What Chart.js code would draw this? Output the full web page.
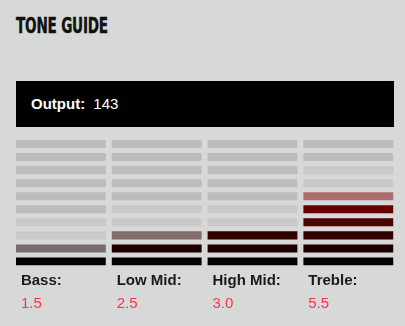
<!DOCTYPE html>
<html>
<head>
<meta charset="utf-8">
<script src="https://cdn.jsdelivr.net/npm/chart.js@4"></script>
<style>
    body { margin: 0; background: #d6d9d8; width: 405px; height: 326px; overflow: hidden; position: relative; font-family: "Liberation Sans", Arial, sans-serif; }
    #titulo { position: absolute; left: 16px; top: 14px; margin: 0; font-family: "Liberation Sans Narrow", "DejaVu Sans Condensed", sans-serif; font-weight: bold; font-size: 21px; line-height: 24px; color: #111; transform: scaleX(0.72); transform-origin: left top; letter-spacing: -0.3px; -webkit-text-stroke: 0.4px #111; }
    #salida { position: absolute; left: 16px; top: 81px; width: 378px; height: 46px; background: #000; color: #fff; font-size: 15px; line-height: 46px; }
    #salida b { margin-left: 15px; margin-right: 4px; }
    #grafico { position: absolute; left: 0; top: 130px; width: 405px; height: 196px; }
</style>
</head>
<body>
<h1 id="titulo">TONE GUIDE</h1>
<div id="salida"><b>Output:</b> <span id="valorSalida"></span></div>
<div id="grafico"><canvas id="myChart"></canvas></div>
<script>
const bandas = ['Bass:', 'Low Mid:', 'High Mid:', 'Treble:'];
const valores = [1.5, 2.5, 3.0, 5.5];
const salida = 143;
const niveles = 10;
const coloresNivel = ['#000000', '#1c0000', '#330000', '#4d0000', '#660000', '#820000', '#990000', '#b30000', '#cc0000', '#e60000'];

const gris = '#bcbcbc';
const grisClaro = '#c8c9c8';
const altoBarra = 8 / 13;

document.getElementById('valorSalida').textContent = salida;

function colorSegmento(valor, nivel) {
    if (valor >= nivel + 1) return coloresNivel[nivel];
    if (valor > nivel) {
        const c = coloresNivel[nivel];
        const r = parseInt(c.slice(1, 3), 16), g = parseInt(c.slice(3, 5), 16), b = parseInt(c.slice(5, 7), 16);
        return 'rgba(' + r + ',' + g + ',' + b + ',' + (valor - nivel) + ')';
    }
    if (nivel < Math.ceil(valor) + 2) return grisClaro;
    return gris;
}

const datasets = [];
for (let n = 0; n < niveles; n++) {
    datasets.push({
        data: valores.map(() => [n, n + altoBarra]),
        backgroundColor: valores.map(v => colorSegmento(v, n)),
        borderWidth: 0,
        grouped: false,
        barPercentage: 90 / 96,
        categoryPercentage: 1
    });
}

const ctx = document.getElementById('myChart').getContext('2d');
const myChart = new Chart(ctx, {
    type: 'bar',
    data: {
        labels: bandas,
        datasets: datasets
    },
    options: {
        responsive: true,
        maintainAspectRatio: false,
        animation: false,
        layout: { padding: { left: 13, right: 8, top: 5, bottom: 15.5 } },
        plugins: { legend: { display: false }, tooltip: { enabled: false } },
        scales: {
            x: {
                offset: true,
                grid: { display: false, drawTicks: false },
                border: { display: false },
                ticks: {
                    align: 'start',
                    labelOffset: -40,
                    padding: 6.5,
                    autoSkip: false,
                    maxRotation: 0,
                    color: '#1a1a1a',
                    font: { family: 'Liberation Sans', size: 15, weight: 'bold' }
                }
            },
            x2: {
                type: 'category',
                position: 'bottom',
                weight: 1,
                labels: valores.map(v => v.toFixed(1)),
                offset: true,
                grid: { display: false, drawTicks: false },
                border: { display: false },
                ticks: {
                    align: 'start',
                    labelOffset: -40,
                    padding: -2,
                    autoSkip: false,
                    maxRotation: 0,
                    color: '#ff3347',
                    font: { family: 'Liberation Sans', size: 15 }
                }
            },
            y: {
                display: false,
                min: 0,
                max: niveles
            }
        }
    }
});
</script>
</body>
</html>
